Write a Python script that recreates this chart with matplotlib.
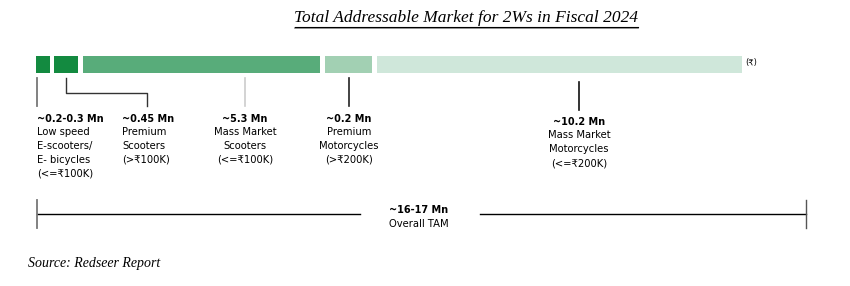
import matplotlib.pyplot as plt

# segments of the 2W market, left to right
values = ["~0.2-0.3 Mn", "~0.45 Mn", "~5.3 Mn", "~0.2 Mn", "~10.2 Mn"]
names = ["Low speed\nE-scooters/\nE- bicycles\n(<=₹100K)",
         "Premium\nScooters\n(>₹100K)",
         "Mass Market\nScooters\n(<=₹100K)",
         "Premium\nMotorcycles\n(>₹200K)",
         "Mass Market\nMotorcycles\n(<=₹200K)"]
# bar lengths as drawn in the report (not to scale)
bar_len = [14, 24, 237.5, 47.5, 365.5]
total_value = "~16-17 Mn"
total_name = "Overall TAM"

colors = ["#138a40", "#138a40", "#58ac7a", "#a2d0b3", "#cfe7da"]
leader_col = ["#777777", "#333333", "#cccccc", "#222222", "#111111"]

fig = plt.figure(figsize=(8.5, 2.86), dpi=100)
ax = fig.add_axes([0, 0, 1, 1])
ax.set_xlim(0, 850)
ax.set_ylim(286, 0)
ax.axis("off")

# bars with small white gaps
gap = 4.5
x0 = 36
lefts = []
pos = x0
for w in bar_len:
    lefts.append(pos)
    pos += w + gap
ax.barh(64.5, bar_len, left=lefts, height=17, color=colors, align="center")
ax.text(lefts[-1] + bar_len[-1] + 3, 63, "(₹)", fontsize=6, va="center", ha="left")

# leader lines
ax.plot([37, 37], [78, 106], color=leader_col[0], lw=1.3)
xm = lefts[1] + bar_len[1] / 2
ax.plot([xm, xm, 147, 147], [78, 93, 93, 106], color=leader_col[1], lw=1)
ax.plot([245, 245], [78, 106], color=leader_col[2], lw=1.2)
ax.plot([349, 349], [78, 106], color=leader_col[3], lw=1.2)
ax.plot([579, 579], [82, 110], color=leader_col[4], lw=1.2)

# labels
lab_x = [37, 122, 245, 349, 579]
lab_ha = ["left", "left", "center", "center", "center"]
lab_y = [119, 119, 119, 119, 122]
for i in range(5):
    ax.text(lab_x[i], lab_y[i], values[i], fontsize=7, fontweight="bold",
            ha=lab_ha[i], va="center")
    ax.text(lab_x[i], lab_y[i] + 8, names[i], fontsize=7.2, ha=lab_ha[i],
            va="top", linespacing=1.5, multialignment=lab_ha[i])

# overall TAM bracket
ax.plot([37, 360], [214, 214], color="black", lw=1)
ax.plot([480, 806], [214, 214], color="black", lw=1)
ax.plot([37, 37], [200, 228], color="#777777", lw=1.3)
ax.plot([806, 806], [200, 228], color="#555555", lw=1)
ax.text(419, 210, total_value, fontsize=7, fontweight="bold", ha="center", va="center")
ax.text(419, 224, total_name, fontsize=7.2, ha="center", va="center")

# title with underline
ax.text(466.5, 18, "Total Addressable Market for 2Ws in Fiscal 2024",
        fontsize=12.5, family="Liberation Serif", style="italic", ha="center", va="center")
ax.plot([295, 638], [27.5, 27.5], color="#888888", lw=1.2)
ax.plot([295, 638], [26.5, 26.5], color="black", lw=0.8)

ax.text(28, 264, "Source: Redseer Report", fontsize=10, family="Liberation Serif",
        style="italic", ha="left", va="center")

fig.savefig("out.png", dpi=100)
